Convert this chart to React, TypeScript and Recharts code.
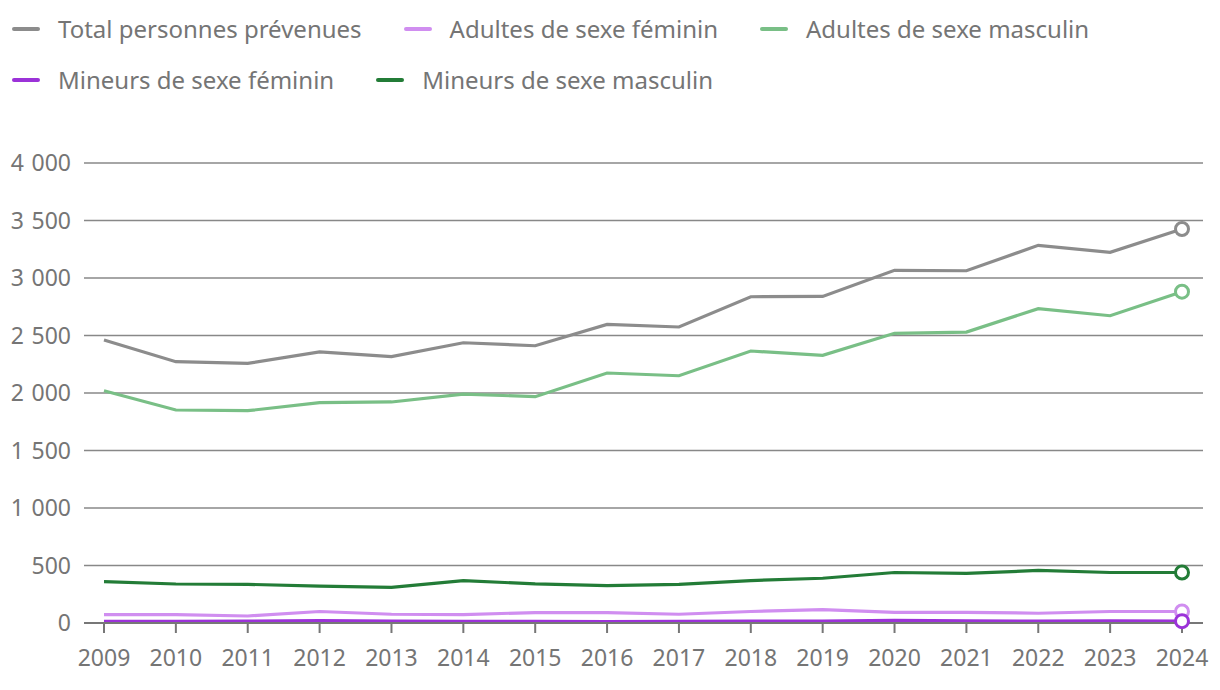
import React from "react";
import { LineChart, Line, XAxis, YAxis, CartesianGrid } from "recharts";

const years = ["2009","2010","2011","2012","2013","2014","2015","2016","2017","2018","2019","2020","2021","2022","2023","2024"];
const total = [2461, 2272, 2258, 2357, 2316, 2437, 2411, 2597, 2574, 2837, 2840, 3067, 3063, 3284, 3223, 3426];
const adultesF = [73, 73, 61, 100, 76, 73, 91, 91, 76, 100, 117, 93, 93, 85, 100, 100];
const adultesM = [2020, 1852, 1846, 1916, 1922, 1991, 1968, 2174, 2150, 2365, 2328, 2519, 2530, 2733, 2672, 2881];
const mineursF = [15, 15, 16, 20, 17, 15, 14, 13, 14, 16, 17, 22, 18, 17, 18, 16];
const mineursM = [360, 339, 336, 321, 309, 369, 340, 325, 336, 369, 389, 439, 431, 457, 439, 439];
const yTicks = [0, 500, 1000, 1500, 2000, 2500, 3000, 3500, 4000];

const series = [
  { key: "total", name: "Total personnes prévenues", color: "#8c8c8c", values: total },
  { key: "adultesF", name: "Adultes de sexe féminin", color: "#d08ef0", values: adultesF },
  { key: "adultesM", name: "Adultes de sexe masculin", color: "#79bf86", values: adultesM },
  { key: "mineursF", name: "Mineurs de sexe féminin", color: "#9b32d8", values: mineursF },
  { key: "mineursM", name: "Mineurs de sexe masculin", color: "#237c37", values: mineursM },
];

const data = years.map((y, i) => {
  const row: any = { year: y };
  series.forEach((s) => (row[s.key] = s.values[i]));
  return row;
});

const FONT = "'Noto Sans', 'Open Sans', sans-serif";
const TEXT = "#757575";

const fmt = (v: number) => {
  const s = String(v);
  return s.length > 3 ? s.slice(0, s.length - 3) + "\u2009\u2009" + s.slice(s.length - 3) : s;
};

const makeDot = (color: string) => (props: any) => {
  const { cx, cy, index } = props;
  if (index !== years.length - 1) return <g key={`d-${index}`} />;
  return <circle key={`d-${index}`} cx={cx} cy={cy} r={6.5} fill="#fff" stroke={color} strokeWidth={3} />;
};

export default function App() {
  return (
    <div style={{ position: "absolute", left: 0, top: 0, width: 1220, height: 690, background: "#fff", fontFamily: FONT }}>
      <div
        style={{
          position: "absolute",
          left: 12,
          top: 3,
          width: 1200,
          display: "flex",
          flexWrap: "wrap",
          columnGap: 42,
          fontSize: 24,
          color: TEXT,
        }}
      >
        {series.map((s) => (
          <div key={s.key} style={{ display: "flex", alignItems: "center", height: 51 }}>
            <div style={{ width: 28, height: 4, borderRadius: 2, background: s.color, marginRight: 18 }} />
            <span>{s.name}</span>
          </div>
        ))}
      </div>
      <LineChart width={1220} height={690} data={data} margin={{ top: 163, right: 17, bottom: 0, left: 0 }}>
        <CartesianGrid vertical={false} stroke="#888" strokeWidth={1.5} />
        <XAxis
          dataKey="year"
          height={67}
          padding={{ left: 20, right: 21 }}
          axisLine={{ stroke: "#777", strokeWidth: 2 }}
          tickLine={{ stroke: "#777", strokeWidth: 2 }}
          tickSize={10}
          tickMargin={17}
          interval={0}
          tick={{ fill: TEXT, fontSize: 23, fontFamily: FONT }}
        />
        <YAxis
          width={84}
          domain={[0, 4000]}
          ticks={yTicks}
          axisLine={false}
          tickLine={false}
          tickSize={6}
          tickMargin={7}
          tickFormatter={fmt}
          tick={{ fill: TEXT, fontSize: 23, fontFamily: FONT }}
        />
        {series.map((s) => (
          <Line
            key={s.key}
            dataKey={s.key}
            name={s.name}
            stroke={s.color}
            strokeWidth={3.2}
            dot={makeDot(s.color)}
            activeDot={false}
            isAnimationActive={false}
          />
        ))}
      </LineChart>
    </div>
  );
}
